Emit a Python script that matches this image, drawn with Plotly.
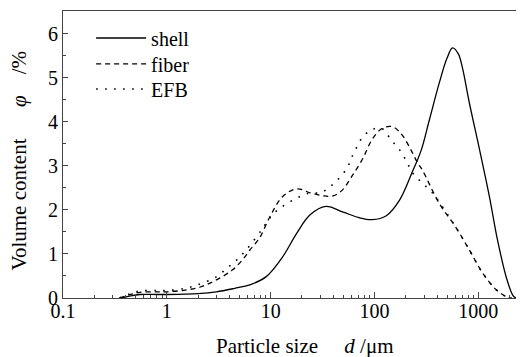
import plotly.graph_objects as go

shell_d = [0.37, 0.45, 0.55, 0.8, 1, 2, 3, 4.5, 6.3, 9, 13, 17.8, 24, 34, 50, 70, 95, 130, 175, 230, 282, 338, 420, 500, 565, 640, 700, 820, 1000, 1280, 1530, 1870, 2150, 2300]
shell_v = [0, 0.05, 0.08, 0.08, 0.08, 0.1, 0.14, 0.22, 0.3, 0.48, 0.93, 1.47, 1.89, 2.08, 1.95, 1.83, 1.78, 1.87, 2.23, 2.85, 3.36, 4.05, 4.88, 5.45, 5.68, 5.55, 5.25, 4.43, 3.5, 2.3, 1.32, 0.45, 0.06, 0]

fiber_d = [0.35, 0.45, 0.55, 0.8, 1, 1.5, 2.1, 3, 4.3, 5.5, 6.3, 7.8, 9.8, 13, 17.8, 24, 32, 40, 49, 60, 76, 96, 120, 150, 185, 225, 260, 290, 420, 610, 820, 1100, 1500, 1900, 2100]
fiber_v = [0, 0.08, 0.13, 0.14, 0.14, 0.18, 0.25, 0.41, 0.64, 0.9, 1.09, 1.36, 1.84, 2.3, 2.48, 2.39, 2.32, 2.32, 2.45, 2.75, 3.14, 3.62, 3.86, 3.89, 3.7, 3.36, 3.07, 2.9, 2.15, 1.6, 1.09, 0.57, 0.18, 0.02, 0]

efb_d = [0.35, 0.45, 0.55, 0.8, 1, 1.5, 2, 3, 3.8, 4.7, 5.8, 8.2, 9.8, 11.7, 15.2, 19, 24, 30, 37, 46, 55, 60, 67, 76, 93, 110, 120, 145, 175, 205, 230, 280, 355, 420, 610, 820, 1100, 1500, 1900, 2100]
efb_v = [0, 0.1, 0.16, 0.17, 0.17, 0.22, 0.3, 0.48, 0.68, 0.86, 1.09, 1.55, 1.82, 2.0, 2.18, 2.3, 2.39, 2.39, 2.52, 2.73, 2.97, 3.18, 3.41, 3.64, 3.82, 3.86, 3.84, 3.59, 3.36, 3.09, 2.86, 2.64, 2.41, 2.18, 1.6, 1.09, 0.57, 0.18, 0.02, 0]

x_tickvals = [0.1, 1, 10, 100, 1000]
x_ticktext = ["0.1", "1", "10", "100", "1000"]
y_tickvals = [0, 1, 2, 3, 4, 5, 6]

FONT = "Liberation Serif, Times New Roman, serif"
NB = "\u00a0"

fig = go.Figure()
fig.add_trace(go.Scatter(x=shell_d, y=shell_v, mode="lines", name="shell", legend="legend",
                         line=dict(color="black", width=1.3, shape="spline", smoothing=1.0)))
fig.add_trace(go.Scatter(x=fiber_d, y=fiber_v, mode="lines", name="fiber", legend="legend2",
                         line=dict(color="black", width=1.3, dash="5px,4px", shape="spline", smoothing=1.0)))
fig.add_trace(go.Scatter(x=efb_d, y=efb_v, mode="lines", name="EFB", legend="legend3",
                         line=dict(color="black", width=1.6, dash="1.6px,7.4px", shape="spline", smoothing=1.0)))

leg = dict(x=0.061, xanchor="left", yanchor="middle", bgcolor="rgba(0,0,0,0)",
           font=dict(size=20, family=FONT), itemwidth=50)

# page body has an 8px margin: compensate so the plot lands where the reference has it
fig.update_layout(
    width=516, height=349,
    margin=dict(l=55, r=0, t=3, b=59),
    paper_bgcolor="white", plot_bgcolor="white",
    font=dict(family=FONT, size=20, color="black"),
    showlegend=True,
    legend=dict(leg, y=0.906),
    legend2=dict(leg, y=0.816),
    legend3=dict(leg, y=0.728),
    xaxis=dict(
        type="log", range=[-1, 3.44], automargin=False,
        tickvals=x_tickvals, ticktext=x_ticktext,
        ticks="inside", ticklen=6, tickwidth=1, tickcolor="#444",
        minor=dict(ticks="inside", ticklen=3, tickcolor="#444", dtick="D1", showgrid=False),
        showline=True, linecolor="#444", linewidth=1, mirror=True,
        showgrid=False, zeroline=False,
        tickfont=dict(size=20, family=FONT),
        ticklabelstandoff=-5,
    ),
    yaxis=dict(
        range=[0, 6.52], automargin=False,
        tickvals=y_tickvals,
        ticks="inside", ticklen=5, tickwidth=1, tickcolor="#444",
        minor=dict(ticks="inside", ticklen=3, tickcolor="#444", dtick=0.5, showgrid=False),
        showline=True, linecolor="#444", linewidth=1, mirror=False,
        showgrid=False, zeroline=False,
        tickfont=dict(size=20, family=FONT),
    ),
    annotations=[
        dict(text="Particle size" + NB * 5 + "<i>d</i>" + NB + "/μm", xref="paper", yref="paper",
             x=0.5228, y=-0.1672, xanchor="center", yanchor="middle", showarrow=False,
             font=dict(size=21, family=FONT)),
        dict(text="Volume content" + NB * 6 + "<i>φ</i>" + NB * 4 + "/%", xref="paper", yref="paper",
             x=-0.0976, y=0.4756, xanchor="center", yanchor="middle", showarrow=False,
             textangle=-90, font=dict(size=21, family=FONT)),
    ],
)

fig.write_html("out.html")
